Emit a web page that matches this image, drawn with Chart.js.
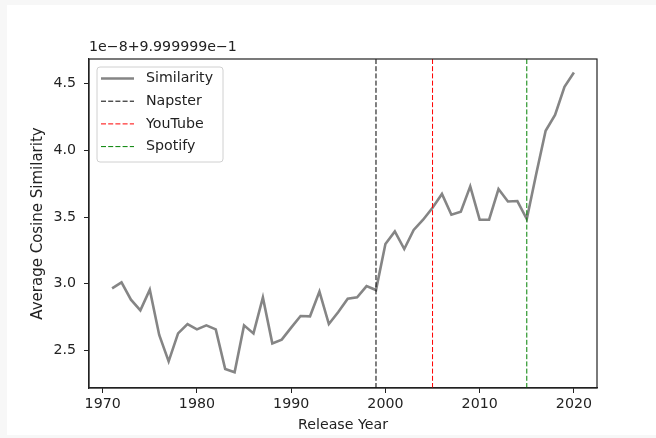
<!DOCTYPE html>
<html>
<head>
<meta charset="utf-8">
<script src="https://cdn.jsdelivr.net/npm/chart.js@4/dist/chart.umd.min.js"></script>
<style>
html, body { margin: 0; padding: 0; background: #f7f7f7; }
#bg { position: absolute; left: 7px; top: 5px; width: 649px; height: 430px; background: #fff; }
#myChart { position: absolute; left: 0; top: 0; }
</style>
</head>
<body>
<div id="bg"></div>
<canvas id="myChart" width="656" height="438"></canvas>
<script>
// data
var years = [1971, 1972, 1973, 1974, 1975, 1976, 1977, 1978, 1979, 1980,
             1981, 1982, 1983, 1984, 1985, 1986, 1987, 1988, 1989, 1990,
             1991, 1992, 1993, 1994, 1995, 1996, 1997, 1998, 1999, 2000,
             2001, 2002, 2003, 2004, 2005, 2006, 2007, 2008, 2009, 2010,
             2011, 2012, 2013, 2014, 2015, 2016, 2017, 2018, 2019, 2020];
var similarity = [2.965, 3.01, 2.88, 2.80, 2.955, 2.615, 2.417, 2.627, 2.697, 2.657,
                  2.687, 2.657, 2.36, 2.335, 2.687, 2.627, 2.897, 2.552, 2.58, 2.67,
                  2.757, 2.755, 2.94, 2.697, 2.787, 2.887, 2.897, 2.982, 2.952, 3.297,
                  3.392, 3.26, 3.403, 3.48, 3.57, 3.673, 3.517, 3.54, 3.73, 3.48,
                  3.48, 3.71, 3.617, 3.62, 3.485, 3.823, 4.147, 4.267, 4.477, 4.585];
var eventNames = ["Napster", "YouTube", "Spotify"];
var eventYears = [1999, 2005, 2015];
var eventColors = ["#000000", "#ff0000", "#008000"];
var xTicks = [1970, 1980, 1990, 2000, 2010, 2020];
var yTicks = [2.5, 3.0, 3.5, 4.0, 4.5];
var offsetText = "1e\u22128+9.999999e\u22121";

var xMin = 1968.55, xMax = 2022.45;
var yMin = 2.217, yMax = 4.686;

var FONT = "'DejaVu Sans', sans-serif";
var TXT = "#222";
var FS = 14.2;
var fnt = { family: FONT, size: FS };

var datasets = [{
    label: "Similarity",
    data: years.map(function (y, i) { return { x: y, y: similarity[i] }; }),
    borderColor: "#858585",
    borderWidth: 2.6,
    pointRadius: 0,
    tension: 0,
    order: 2
}];
eventNames.forEach(function (name, i) {
    datasets.push({
        label: name,
        data: [{ x: eventYears[i], y: yMin }, { x: eventYears[i], y: yMax }],
        borderColor: eventColors[i],
        borderWidth: 1,
        borderDash: [5, 2.2],
        pointRadius: 0,
        order: 1
    });
});

var framePlugin = {
    id: "frame",
    afterDraw: function (chart) {
        var ctx = chart.ctx, a = chart.chartArea;
        ctx.save();
        // spines
        ctx.strokeStyle = TXT;
        ctx.lineWidth = 1.2;
        ctx.strokeRect(a.left, a.top, a.right - a.left, a.bottom - a.top);
        // offset text
        ctx.fillStyle = TXT;
        ctx.font = FS + "px " + FONT;
        ctx.textBaseline = "middle";
        ctx.textAlign = "left";
        ctx.fillText(offsetText, a.left, a.top - 12);
        // legend
        var bx = a.left + 8, by = a.top + 8, bw = 126, bh = 95, r = 3;
        ctx.beginPath();
        ctx.moveTo(bx + r, by);
        ctx.arcTo(bx + bw, by, bx + bw, by + bh, r);
        ctx.arcTo(bx + bw, by + bh, bx, by + bh, r);
        ctx.arcTo(bx, by + bh, bx, by, r);
        ctx.arcTo(bx, by, bx + bw, by, r);
        ctx.closePath();
        ctx.fillStyle = "rgba(255,255,255,0.85)";
        ctx.fill();
        ctx.strokeStyle = "#d0d0d0";
        ctx.lineWidth = 1;
        ctx.stroke();
        chart.data.datasets.forEach(function (ds, i) {
            var cy = by + 11.5 + i * 22.7;
            ctx.beginPath();
            ctx.setLineDash(ds.borderDash || []);
            ctx.strokeStyle = ds.borderColor;
            ctx.lineWidth = ds.borderWidth;
            ctx.moveTo(bx + 4, cy);
            ctx.lineTo(bx + 37, cy);
            ctx.stroke();
            ctx.setLineDash([]);
            ctx.fillStyle = TXT;
            ctx.fillText(ds.label, bx + 49, cy);
        });
        ctx.restore();
    }
};

var ctx = document.getElementById("myChart");
var myChart = new Chart(ctx, {
    type: "line",
    data: { datasets: datasets },
    options: {
        responsive: false,
        animation: false,
        events: [],
        layout: { padding: { left: 0, top: 59, right: 59, bottom: 0 } },
        plugins: { legend: { display: false }, tooltip: { enabled: false } },
        scales: {
            x: {
                type: "linear",
                position: "bottom",
                min: xMin,
                max: xMax,
                afterBuildTicks: function (s) { s.ticks = xTicks.map(function (v) { return { value: v }; }); },
                afterFit: function (s) { s.height = 50; },
                ticks: {
                    font: fnt, color: TXT, padding: 3, maxRotation: 0, autoSkip: false,
                    callback: function (v) { return String(v); }
                },
                grid: { drawOnChartArea: false, drawTicks: true, tickLength: 5, color: TXT },
                border: { display: true, color: TXT, width: 1.2 },
                title: { display: true, text: "Release Year", font: fnt, color: TXT, padding: { top: 0, bottom: 4.4 } }
            },
            y: {
                type: "linear",
                position: "left",
                min: yMin,
                max: yMax,
                afterBuildTicks: function (s) { s.ticks = yTicks.map(function (v) { return { value: v }; }); },
                afterFit: function (s) { s.width = 89; },
                ticks: {
                    font: fnt, color: TXT, padding: 8,
                    callback: function (v) { return v.toFixed(1); }
                },
                grid: { drawOnChartArea: false, drawTicks: true, tickLength: 5, color: TXT },
                border: { display: true, color: TXT, width: 1.2 },
                title: { display: true, text: "Average Cosine Similarity", font: { family: FONT, size: 15 }, color: TXT, padding: { top: 29, bottom: 0 } }
            }
        }
    },
    plugins: [framePlugin]
});
</script>
</body>
</html>
